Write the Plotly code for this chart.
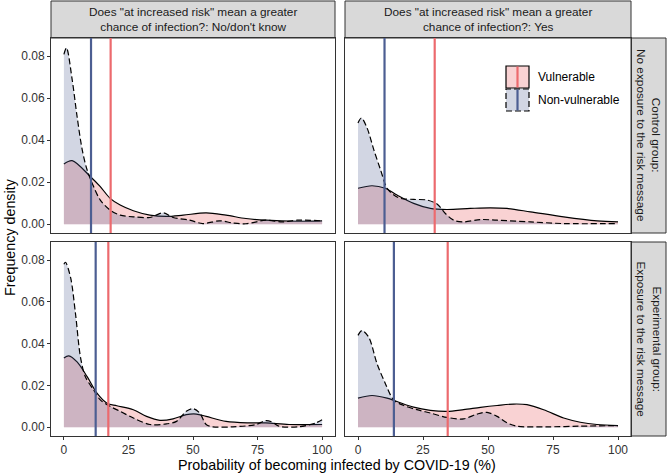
import plotly.graph_objects as go

# ---------------- data ----------------
# Panel A: Control group, "No/don't know"
x_a_vul = [0, 3.2, 10.3, 14.1, 17.9, 21.8, 26.9, 33.3, 39.8, 46.2, 55.1, 62.8, 70.5, 78.2, 90.3, 100]
d_a_vul = [0.0287, 0.0303, 0.0226, 0.0179, 0.0123, 0.0091, 0.0064, 0.0043, 0.0037, 0.0043, 0.0054, 0.0043, 0.0027, 0.0019, 0.0014, 0.0016]
x_a_non = [0, 1, 3.2, 5.1, 7.1, 9, 11.5, 14.1, 17.9, 21.8, 26.9, 33.3, 38.5, 42.3, 48.7, 53.8, 60.3, 65.4, 70.5, 78.2, 84.6, 90.3, 100]
d_a_non = [0.0809, 0.084, 0.0689, 0.0513, 0.0354, 0.0258, 0.0179, 0.0115, 0.0067, 0.0043, 0.0035, 0.0032, 0.0054, 0.0032, 0.0019, 0.0003, 0.0016, 0.0006, 0.0002, 0.0019, 0.0011, 0.0019, 0.0016]

# Panel B: Control group, "Yes"
x_b_vul = [0, 5.4, 10.5, 15, 21.4, 27.8, 34.2, 43.2, 50.9, 57.3, 66.3, 79.1, 92, 100]
d_b_vul = [0.0171, 0.0183, 0.0171, 0.0139, 0.0099, 0.0075, 0.0070, 0.0075, 0.0078, 0.0075, 0.0059, 0.0035, 0.0016, 0.0011]
x_b_non = [0, 1.3, 3.5, 6.1, 8.7, 11.2, 13.8, 16.3, 21.4, 26.5, 30.4, 33.6, 36.8, 40.6, 47.1, 53.5, 66.3, 79.1, 100]
d_b_non = [0.0482, 0.0506, 0.0458, 0.0354, 0.0258, 0.0171, 0.0139, 0.0123, 0.0118, 0.0115, 0.0096, 0.0051, 0.0019, 0.0011, 0.0022, 0.0019, 0.0011, 0.0003, 0.0003]

# Panel C: Experimental group, "No/don't know"
x_c_vul = [0, 1.9, 5.1, 9, 12.8, 16.7, 20.5, 26.9, 32, 37.2, 42.3, 47.4, 51.3, 55.1, 62.8, 71.8, 78.2, 87.2, 100]
d_c_vul = [0.0332, 0.0342, 0.0313, 0.0242, 0.0163, 0.0115, 0.0103, 0.0084, 0.0052, 0.0033, 0.0040, 0.0060, 0.0063, 0.0052, 0.0028, 0.0021, 0.0021, 0.0013, 0.0013]
x_c_non = [0, 0.6, 2.6, 4.5, 6.4, 8.3, 11.5, 14.1, 17.9, 21.8, 26.9, 33.3, 39.7, 43.6, 47.4, 50, 52.6, 55.1, 57.7, 65.4, 74.4, 78.2, 80.8, 83.3, 91, 97.4, 100]
d_c_non = [0.078, 0.079, 0.0716, 0.0542, 0.0337, 0.0242, 0.0179, 0.0131, 0.0100, 0.0076, 0.0044, 0.0013, 0.0016, 0.0028, 0.0076, 0.0089, 0.0068, 0.0013, 0.0002, 0.0002, 0.0013, 0.0032, 0.0024, 0.0005, 0.0002, 0.0020, 0.0036]

# Panel D: Experimental group, "Yes"
x_d_vul = [0, 5.4, 11.2, 15, 21.4, 27.8, 34.2, 40.6, 47.1, 53.5, 59.9, 65, 71.4, 79.1, 85.5, 91.9, 100]
d_d_vul = [0.0139, 0.0152, 0.0139, 0.0123, 0.0096, 0.0081, 0.0076, 0.0084, 0.0095, 0.0104, 0.0111, 0.0108, 0.0084, 0.0044, 0.0024, 0.0013, 0.0008]
x_d_non = [0, 1.5, 4.1, 7.3, 10.5, 13.7, 17.6, 22.7, 27.8, 34.2, 40.6, 45.8, 49.6, 53.5, 57.3, 61.2, 72.7, 85.5, 100]
d_d_non = [0.044, 0.0463, 0.0432, 0.0305, 0.021, 0.0131, 0.0104, 0.0084, 0.0068, 0.0047, 0.0040, 0.0063, 0.0071, 0.0052, 0.0021, 0.0005, 0.0002, 0.0005, 0.0008]

# Group means (vertical lines): [A, B, C, D]
mean_vul = [18.1, 29.5, 17.2, 34.5]
mean_non = [10.5, 10.2, 12.3, 13.8]

col_labels = ["Does \"at increased risk\" mean a greater<br>chance of infection?: No/don't know",
              "Does \"at increased risk\" mean a greater<br>chance of infection?: Yes"]
row_labels = ["Control group:<br>No exposure to the risk message",
              "Experimental group:<br>Exposure to the risk message"]
x_ticks = [0, 25, 50, 75, 100]
y_ticks = [0, 0.02, 0.04, 0.06, 0.08]
y_tick_text = ["0.00", "0.02", "0.04", "0.06", "0.08"]

# ---------------- styling ----------------
W, H = 670, 475
FONT = "Liberation Sans, Arial, sans-serif"
VUL_FILL = "rgba(230,75,80,0.25)"
NON_FILL = "rgba(74,92,143,0.25)"
VUL_LINE = "#EC6A6E"
NON_LINE = "#4C5E92"
FRAME = "#333333"
DASH = "6px,3px"

def px_x(p):
    return p / W

def px_y(p):
    return 1 - p / H

col_dom = [(px_x(51), px_x(335)), (px_x(345), px_x(631))]
row_dom = [(px_y(233), px_y(38)), (px_y(436), px_y(242))]

panels = [
    (0, 0, x_a_vul, d_a_vul, x_a_non, d_a_non),
    (0, 1, x_b_vul, d_b_vul, x_b_non, d_b_non),
    (1, 0, x_c_vul, d_c_vul, x_c_non, d_c_non),
    (1, 1, x_d_vul, d_d_vul, x_d_non, d_d_non),
]

fig = go.Figure()
layout = {}
shapes = []

for i, (r, c, xv, dv, xn, dn) in enumerate(panels):
    k = i + 1
    xa = "x" if k == 1 else f"x{k}"
    ya = "y" if k == 1 else f"y{k}"
    fig.add_trace(go.Scatter(x=xv, y=dv, xaxis=xa, yaxis=ya, mode="lines",
                             line=dict(color="black", width=1.2, shape="spline", smoothing=0.9),
                             fill="tozeroy", fillcolor=VUL_FILL, showlegend=False,
                             name="Vulnerable", hoverinfo="skip"))
    fig.add_trace(go.Scatter(x=xn, y=dn, xaxis=xa, yaxis=ya, mode="lines",
                             line=dict(color="black", width=1.2, dash=DASH, shape="spline", smoothing=0.9),
                             fill="tozeroy", fillcolor=NON_FILL, showlegend=False,
                             name="Non-vulnerable", hoverinfo="skip"))
    # mean lines
    for m, colr in ((mean_non[i], NON_LINE), (mean_vul[i], VUL_LINE)):
        fig.add_trace(go.Scatter(x=[m, m], y=[-0.0042, 0.0887], xaxis=xa, yaxis=ya,
                                 mode="lines", line=dict(color=colr, width=2.2),
                                 showlegend=False, hoverinfo="skip"))
    xkey = "xaxis" if k == 1 else f"xaxis{k}"
    ykey = "yaxis" if k == 1 else f"yaxis{k}"
    layout[xkey] = dict(domain=list(col_dom[c]), anchor=ya, range=[-5, 105], automargin=False,
                        tickvals=x_ticks, ticktext=[str(t) for t in x_ticks],
                        showticklabels=(r == 1), ticks="outside" if r == 1 else "",
                        ticklen=3, tickcolor=FRAME, tickwidth=1,
                        showgrid=False, zeroline=False, showline=True, mirror=True,
                        linecolor=FRAME, linewidth=1,
                        tickfont=dict(family=FONT, size=12, color="#333333"))
    layout[ykey] = dict(domain=list(row_dom[r]), anchor=xa, range=[-0.0042, 0.0887], automargin=False,
                        tickvals=y_ticks, ticktext=y_tick_text,
                        showticklabels=(c == 0), ticks="outside" if c == 0 else "",
                        ticklen=3, tickcolor=FRAME, tickwidth=1,
                        showgrid=False, zeroline=False, showline=True, mirror=True,
                        linecolor=FRAME, linewidth=1,
                        tickfont=dict(family=FONT, size=12, color="#333333"))

annotations = []
# top strips
for c in range(2):
    x0, x1 = col_dom[c]
    shapes.append(dict(type="rect", xref="paper", yref="paper", x0=x0, x1=x1,
                       y0=px_y(38), y1=px_y(1), fillcolor="#D9D9D9",
                       line=dict(color=FRAME, width=1), layer="below"))
    annotations.append(dict(xref="paper", yref="paper", x=(x0 + x1) / 2, y=(px_y(38) + px_y(1)) / 2,
                            text=col_labels[c], showarrow=False, xanchor="center", yanchor="middle",
                            font=dict(family=FONT, size=11.8, color="#1A1A1A")))
# right strips
for r in range(2):
    y0, y1 = row_dom[r]
    shapes.append(dict(type="rect", xref="paper", yref="paper", x0=px_x(631), x1=px_x(666),
                       y0=y0, y1=y1, fillcolor="#D9D9D9",
                       line=dict(color=FRAME, width=1), layer="below"))
    annotations.append(dict(xref="paper", yref="paper", x=(px_x(631) + px_x(666)) / 2, y=(y0 + y1) / 2,
                            text=row_labels[r], showarrow=False, textangle=90,
                            xanchor="center", yanchor="middle",
                            font=dict(family=FONT, size=11.8, color="#1A1A1A")))

# axis titles
annotations.append(dict(xref="paper", yref="paper", x=px_x(337), y=px_y(465),
                        text="Probability of becoming infected by COVID-19 (%)", showarrow=False,
                        xanchor="center", yanchor="middle",
                        font=dict(family=FONT, size=14.3, color="black")))
annotations.append(dict(xref="paper", yref="paper", x=px_x(10), y=px_y(237),
                        text="Frequency density", showarrow=False, textangle=-90,
                        xanchor="center", yanchor="middle",
                        font=dict(family=FONT, size=14.3, color="black")))

# legend (drawn manually, in panel B)
lx0, lx1 = px_x(506), px_x(529)
shapes.append(dict(type="rect", xref="paper", yref="paper", x0=lx0, x1=lx1, y0=px_y(88), y1=px_y(66),
                   fillcolor=VUL_FILL, line=dict(color="black", width=1.2)))
shapes.append(dict(type="line", xref="paper", yref="paper", x0=px_x(517.5), x1=px_x(517.5),
                   y0=px_y(87.5), y1=px_y(66.5), line=dict(color=VUL_LINE, width=2.2)))
shapes.append(dict(type="rect", xref="paper", yref="paper", x0=lx0, x1=lx1, y0=px_y(111), y1=px_y(89),
                   fillcolor=NON_FILL, line=dict(color="black", width=1.2, dash=DASH)))
shapes.append(dict(type="line", xref="paper", yref="paper", x0=px_x(517.5), x1=px_x(517.5),
                   y0=px_y(110.5), y1=px_y(89.5), line=dict(color=NON_LINE, width=2.2)))
annotations.append(dict(xref="paper", yref="paper", x=px_x(536), y=px_y(77), text="Vulnerable",
                        showarrow=False, xanchor="left", yanchor="middle",
                        font=dict(family=FONT, size=12, color="black")))
annotations.append(dict(xref="paper", yref="paper", x=px_x(536), y=px_y(100), text="Non-vulnerable",
                        showarrow=False, xanchor="left", yanchor="middle",
                        font=dict(family=FONT, size=12, color="black")))

fig.update_layout(width=W, height=H, margin=dict(l=0, r=0, t=0, b=0, autoexpand=False),
                  template="none",
                  paper_bgcolor="white", plot_bgcolor="white",
                  shapes=shapes, annotations=annotations, showlegend=False, **layout)

fig.write_html("out.html", config={"displayModeBar": False},
               post_script="document.body.style.margin='0px';document.body.style.padding='0px';"
                           "document.body.style.overflow='hidden';")
